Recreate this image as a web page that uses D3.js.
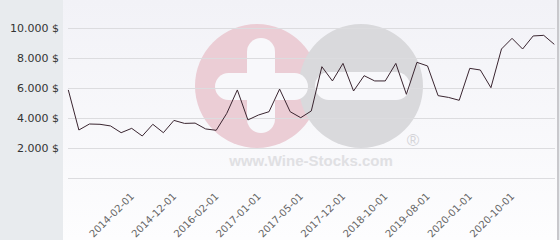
<!DOCTYPE html>
<html><head><meta charset="utf-8">
<script src="https://cdn.jsdelivr.net/npm/d3@7/dist/d3.min.js"></script>
<style>html,body{margin:0;padding:0;background:#fff;}svg{display:block;}</style>
</head><body>
<script>
// Data
const pointIndex = d3.range(47);
const prices = [5870,3200,3600,3580,3470,3020,3310,2800,3580,3020,3840,3640,3660,3270,3180,4310,5870,3870,4200,4420,5930,4420,4020,4470,7420,6470,7640,5800,6820,6470,6470,7640,5580,7710,7470,5490,5370,5180,7310,7200,6020,8600,9310,8600,9470,9510,8910];
const tickIndex = [6,10,14,18,22,26,30,34,38,42];
const tickLabels = ["2014-02-01","2014-12-01","2016-02-01","2017-01-01","2017-05-01","2017-12-01","2018-10-01","2019-08-01","2020-01-01","2020-10-01"];
const yTicks = [0,2000,4000,6000,8000,10000];

const W = 560, H = 240;
const svg = d3.select("body").append("svg").attr("width", W).attr("height", H);
const defs = svg.append("defs");
const grad = defs.append("linearGradient").attr("id","bg").attr("x1",0).attr("y1",0).attr("x2",0).attr("y2",1);
grad.append("stop").attr("offset","0%").attr("stop-color","#f2f2f7");
grad.append("stop").attr("offset","100%").attr("stop-color","#fdfdfe");

// panels
svg.append("rect").attr("x",0).attr("y",0).attr("width",W).attr("height",H).attr("fill","#e8ebee");
svg.append("rect").attr("x",63).attr("y",0).attr("width",494).attr("height",H).attr("fill","url(#bg)");
svg.append("rect").attr("x",557).attr("y",0).attr("width",2).attr("height",H).attr("fill","#c8c8cc");

const x = d3.scalePoint().domain(pointIndex).range([68.3, 554.3]);
const y = d3.scaleLinear().domain([0, 10000]).range([178, 28]);

// watermark
const wm = svg.append("g");
wm.append("circle").attr("cx",257).attr("cy",86).attr("r",62).attr("fill","#ebcdd5");
wm.append("circle").attr("cx",361).attr("cy",86).attr("r",62).attr("fill","#d9d9dc");
wm.append("rect").attr("x",247).attr("y",38).attr("width",28).attr("height",95).attr("rx",14).attr("fill","#f8f8fb");
wm.append("rect").attr("x",215).attr("y",73).attr("width",93).attr("height",27).attr("rx",13.5).attr("fill","#f8f8fb");
wm.append("rect").attr("x",315).attr("y",72).attr("width",95).attr("height",28).attr("rx",14).attr("fill","#f8f8fb");
wm.append("text").attr("x",311).attr("y",166).attr("text-anchor","middle")
  .attr("font-family","Liberation Sans, Arial, sans-serif").attr("font-weight","bold").attr("font-size",15)
  .attr("fill","#e0e0e3").text("www.Wine-Stocks.com");
wm.append("text").attr("x",413).attr("y",146).attr("text-anchor","middle")
  .attr("font-family","Liberation Sans, Arial, sans-serif").attr("font-size",17)
  .attr("fill","#d4d4d8").text("®");

// gridlines
svg.append("g").selectAll("line").data(yTicks).join("line")
  .attr("x1",68).attr("x2",555)
  .attr("y1",d=>Math.round(y(d))+0.5).attr("y2",d=>Math.round(y(d))+0.5)
  .attr("stroke","#dcdcdf").attr("stroke-width",1);

// y axis labels
const fmt = d => d3.formatLocale({decimal:",",thousands:".",grouping:[3],currency:["","$"]}).format(",.0f")(d) + " $";
svg.append("g").selectAll("text").data(yTicks.filter(d=>d>0)).join("text")
  .attr("x",59).attr("y",d=>y(d)+4)
  .attr("text-anchor","end").attr("font-family","DejaVu Sans, sans-serif").attr("font-size",11)
  .attr("fill","#333").text(fmt);

// x axis labels
svg.append("g").selectAll("text").data(tickIndex).join("text")
  .attr("transform",(d)=>`translate(${x(d)+3},${197}) rotate(-45)`)
  .attr("text-anchor","end").attr("font-family","DejaVu Sans, sans-serif").attr("font-size",10)
  .attr("fill","#666").text((d,i)=>tickLabels[i]);

// line
const line = d3.line().x((d,i)=>x(pointIndex[i])).y(d=>y(d));
svg.append("path").datum(prices).attr("d",line).attr("fill","none")
  .attr("stroke","#3a2530").attr("stroke-width",1);
</script>
</body></html>
